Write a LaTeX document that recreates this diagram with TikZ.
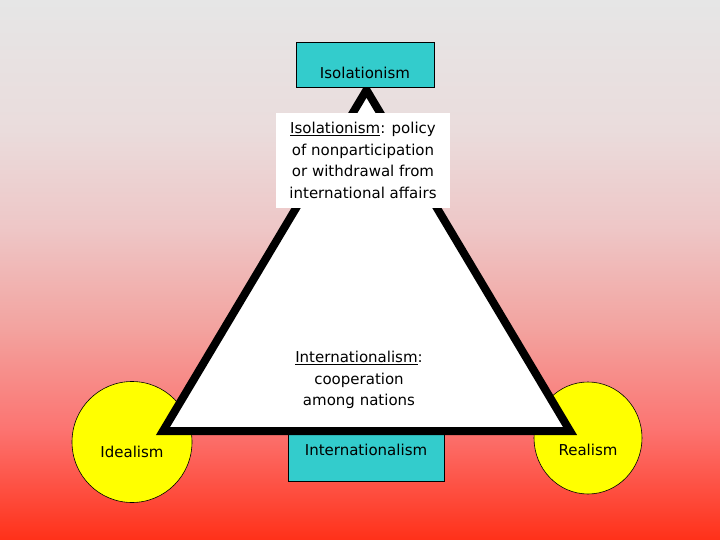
\documentclass[tikz,border=0pt]{standalone}
\usepackage{fontspec}
\setmainfont{DejaVu Sans}
\usetikzlibrary{shapes.geometric,positioning}

\definecolor{bgA}{HTML}{E6E6E6}
\definecolor{bgB}{HTML}{EADCDC}
\definecolor{bgC}{HTML}{EEC6C6}
\definecolor{bgD}{HTML}{F3A29E}
\definecolor{bgE}{HTML}{FC7370}
\definecolor{bgF}{HTML}{FF3018}
\definecolor{boxcyan}{HTML}{33CCCC}
\definecolor{circyellow}{HTML}{FFFF00}

\begin{document}
\begin{tikzpicture}[x=1pt, y=-1pt, font=\fontsize{15}{21.5}\selectfont]
	% Define styles
	\tikzstyle{termbox} = [rectangle, draw, fill=boxcyan, line width=0.8pt, inner sep=0pt]
	\tikzstyle{theory} = [ellipse, draw, fill=circyellow, line width=0.6pt, inner sep=0pt, text height=32pt, text depth=2pt]
	\tikzstyle{definition} = [align=center, inner sep=0pt]

	\useasboundingbox (0,0) rectangle (720,540);

	% Background
	\foreach \ya/\yb/\ca/\cb in {0/130/bgA/bgB, 130/230/bgB/bgC, 230/330/bgC/bgD, 330/430/bgD/bgE, 430/540/bgE/bgF}
		\shade[top color=\ca, bottom color=\cb] (0,\ya) rectangle (720,\yb+1);

	% Nodes
	\node[theory, minimum width=120pt, minimum height=121pt] (idealism) at (132,442) {Idealism};
	\node[theory, minimum width=108pt, minimum height=112pt, text height=36pt] (realism) at (588,438) {Realism};
	\node[termbox, minimum width=156pt, minimum height=63pt] (internationalism) at (366,449.5) {Internationalism};

	% Triangle
	\coordinate (apex) at (366.5,90);
	\coordinate (baseleft) at (163,431);
	\coordinate (baseright) at (570,431);
	\draw[line width=8pt, fill=white] (apex) -- (baseleft) -- (baseright) -- cycle;

	\node[termbox, minimum width=138pt, minimum height=45pt, text height=31pt, text depth=2pt] (isolationism) at (365,64.5) {Isolationism};
	\node[definition, fill=white, minimum width=174pt, minimum height=95pt] (isodef) at (363,160.5) {\underline{Isolationism}: policy\\of nonparticipation\\or withdrawal from\\international affairs};
	\node[definition] (interdef) at (359,380) {\underline{Internationalism}:\\cooperation\\among nations};
\end{tikzpicture}
\end{document}
